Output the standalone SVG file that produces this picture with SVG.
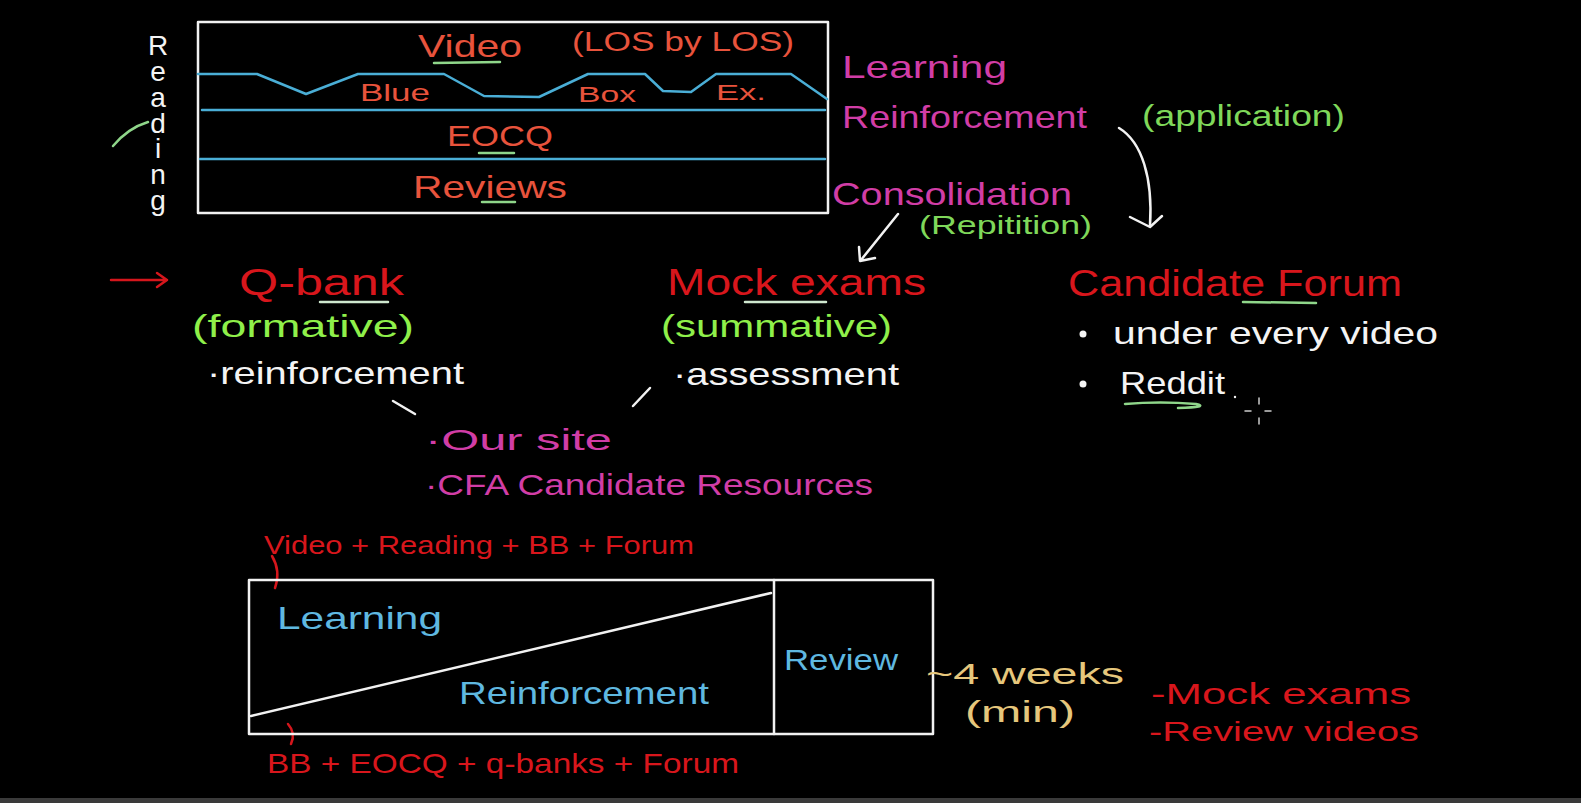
<svg xmlns="http://www.w3.org/2000/svg" width="1581" height="803" viewBox="0 0 1581 803">
<style>
text{font-family:"Liberation Sans","DejaVu Sans",sans-serif;font-weight:normal}
.ln{fill:none;stroke-linecap:round;stroke-linejoin:round}
.w{stroke:#f2f2f2;stroke-width:2.5}
.bl{stroke:#4aaed6;stroke-width:2.5}
.gr{stroke:#8fd68a;stroke-width:2.5}
.rd{stroke:#d5161c;stroke-width:2.5}
.tr{fill:#e8533c}
.tR{fill:#d8161c}
.tm{fill:#d13da6}
.tg{fill:#7fd85a}
.tG{fill:#8ff04a}
.tw{fill:#f4f4f4}
.tb{fill:#5fb8e0}
.tt{fill:#e6c77c}
</style>
<rect x="0" y="0" width="1581" height="803" fill="#000"/>
<rect x="0" y="798" width="1581" height="5" fill="#3a3a3a"/>

<g id="reading-box">
<rect x="198" y="22" width="630" height="191" class="ln w"/>
<polyline class="ln bl" points="198,74 257,74 306,94 358,74 444,74 484,96 539,97 588,74 645,74 663,91 691,92 716,74 791,74 827,99"/>
<line class="ln bl" x1="202" y1="110" x2="825" y2="110"/>
<line class="ln bl" x1="200" y1="159" x2="825" y2="159"/>
<text class="tr" x="418" y="57" font-size="32" textLength="104" lengthAdjust="spacingAndGlyphs">Video</text>
<line class="ln gr" x1="434" y1="63" x2="500" y2="62"/>
<text class="tr" x="572" y="51" font-size="27" textLength="222" lengthAdjust="spacingAndGlyphs">(LOS by LOS)</text>
<text class="tr" x="360" y="101" font-size="24" textLength="70" lengthAdjust="spacingAndGlyphs">Blue</text>
<text class="tr" x="578" y="102" font-size="22" textLength="58" lengthAdjust="spacingAndGlyphs">Box</text>
<text class="tr" x="716" y="100" font-size="22" textLength="50" lengthAdjust="spacingAndGlyphs">Ex.</text>
<text class="tr" x="447" y="146" font-size="30" textLength="106" lengthAdjust="spacingAndGlyphs">EOCQ</text>
<line class="ln gr" x1="479" y1="153" x2="514" y2="153"/>
<text class="tr" x="413" y="198" font-size="32" textLength="154" lengthAdjust="spacingAndGlyphs">Reviews</text>
<line class="ln gr" x1="482" y1="202" x2="515" y2="202"/>
</g>

<g id="reading-label">
<text class="tw" x="158" y="30" font-size="28" writing-mode="vertical-rl" style="text-orientation:upright" textLength="186" lengthAdjust="spacing">Reading</text>
<path class="ln gr" d="M113,146 Q128,128 148,122"/>
</g>

<g id="stages">
<text class="tm" x="842" y="78" font-size="32" textLength="165" lengthAdjust="spacingAndGlyphs">Learning</text>
<text class="tm" x="842" y="128" font-size="32" textLength="245" lengthAdjust="spacingAndGlyphs">Reinforcement</text>
<text class="tg" x="1142" y="126" font-size="30" textLength="203" lengthAdjust="spacingAndGlyphs">(application)</text>
<text class="tm" x="832" y="205" font-size="32" textLength="240" lengthAdjust="spacingAndGlyphs">Consolidation</text>
<text class="tg" x="919" y="234" font-size="26" textLength="173" lengthAdjust="spacingAndGlyphs">(Repitition)</text>
</g>

<g id="connectors">
<path class="ln w" d="M1119,128 C1142,142 1153,178 1150,226"/>
<path class="ln w" d="M1130,217 L1150,227 L1162,216"/>
<path class="ln w" d="M898,214 L861,260"/>
<path class="ln w" d="M859,247 L860,261 L875,258"/>
<path class="ln rd" d="M111,280 L167,280 M157,273 L167,280 L157,287"/>
<line class="ln w" x1="393" y1="401" x2="415" y2="414"/>
<line class="ln w" x1="633" y1="406" x2="650" y2="388"/>
<path class="ln rd" d="M272,556 Q281,571 275,588"/>
<path class="ln rd" d="M288,724 Q296,733 291,744"/>
</g>

<g id="qbank">
<text class="tR" x="239" y="295" font-size="36" textLength="165" lengthAdjust="spacingAndGlyphs">Q-bank</text>
<line class="ln" stroke="#cfe8cf" stroke-width="2.5" x1="320" y1="302" x2="388" y2="302"/>
<text class="tG" x="192" y="337" font-size="32" textLength="222" lengthAdjust="spacingAndGlyphs">(formative)</text>
<text class="tw" x="207" y="384" font-size="32" textLength="257" lengthAdjust="spacingAndGlyphs">·reinforcement</text>
</g>

<g id="mock-exams">
<text class="tR" x="667" y="295" font-size="36" textLength="259" lengthAdjust="spacingAndGlyphs">Mock exams</text>
<line class="ln" stroke="#cfe8cf" stroke-width="2.5" x1="745" y1="302" x2="826" y2="302"/>
<text class="tG" x="661" y="337" font-size="32" textLength="231" lengthAdjust="spacingAndGlyphs">(summative)</text>
<text class="tw" x="673" y="385" font-size="32" textLength="226" lengthAdjust="spacingAndGlyphs">·assessment</text>
</g>

<g id="sources">
<text class="tm" x="425" y="450" font-size="30" textLength="187" lengthAdjust="spacingAndGlyphs">·Our site</text>
<text class="tm" x="425" y="495" font-size="30" textLength="448" lengthAdjust="spacingAndGlyphs">·CFA Candidate Resources</text>
</g>

<g id="candidate-forum">
<text class="tR" x="1068" y="296" font-size="36" textLength="334" lengthAdjust="spacingAndGlyphs">Candidate Forum</text>
<line class="ln gr" x1="1243" y1="302" x2="1316" y2="303"/>
<circle cx="1083" cy="334" r="3.5" fill="#f4f4f4"/>
<text class="tw" x="1113" y="344" font-size="32" textLength="325" lengthAdjust="spacingAndGlyphs">under every video</text>
<circle cx="1083" cy="384" r="3.5" fill="#f4f4f4"/>
<text class="tw" x="1120" y="394" font-size="32" textLength="105" lengthAdjust="spacingAndGlyphs">Reddit</text>
<circle cx="1235" cy="397" r="1.2" fill="#f4f4f4"/>
<path class="ln gr" d="M1125,404 Q1160,401 1196,404 Q1210,407 1178,408"/>
<path class="ln" stroke="#cccccc" stroke-width="1.5" d="M1259,398 v6 M1259,418 v6 M1245,411 h6 M1265,411 h6"/>
</g>

<g id="timeline">
<text class="tR" x="264" y="554" font-size="26" textLength="430" lengthAdjust="spacingAndGlyphs">Video + Reading + BB + Forum</text>
<rect x="249" y="580" width="684" height="154" class="ln w"/>
<line class="ln w" x1="774" y1="580" x2="774" y2="734"/>
<line class="ln w" x1="251" y1="716" x2="771" y2="593"/>
<text class="tb" x="277" y="629" font-size="32" textLength="165" lengthAdjust="spacingAndGlyphs">Learning</text>
<text class="tb" x="459" y="704" font-size="32" textLength="250" lengthAdjust="spacingAndGlyphs">Reinforcement</text>
<text class="tb" x="784" y="670" font-size="30" textLength="114" lengthAdjust="spacingAndGlyphs">Review</text>
<text class="tR" x="267" y="773" font-size="28" textLength="472" lengthAdjust="spacingAndGlyphs">BB + EOCQ + q-banks + Forum</text>
</g>

<g id="review-notes">
<text class="tt" x="926" y="684" font-size="30" textLength="198" lengthAdjust="spacingAndGlyphs">~4 weeks</text>
<text class="tt" x="965" y="722" font-size="30" textLength="110" lengthAdjust="spacingAndGlyphs">(min)</text>
<text class="tR" x="1151" y="704" font-size="30" textLength="260" lengthAdjust="spacingAndGlyphs">-Mock exams</text>
<text class="tR" x="1149" y="741" font-size="28" textLength="270" lengthAdjust="spacingAndGlyphs">-Review videos</text>
</g>
</svg>
